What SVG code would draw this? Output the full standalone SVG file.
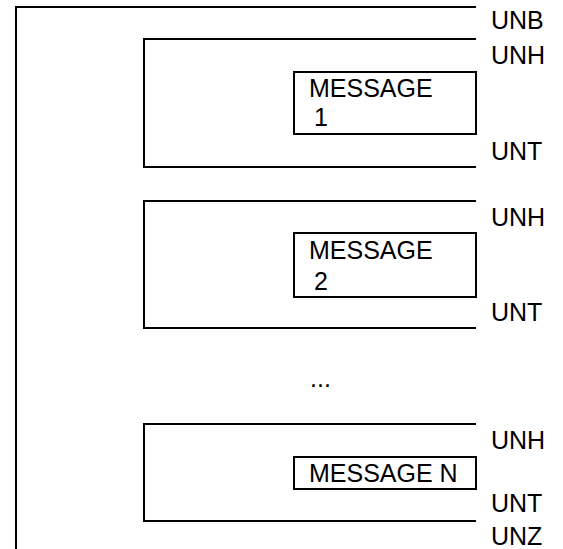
<svg xmlns="http://www.w3.org/2000/svg" width="563" height="549" viewBox="0 0 563 549">
  <style>
    .ln { fill: none; stroke: #000; stroke-width: 2; }
    .t { font-family: "Liberation Sans", Arial, sans-serif; font-size: 25px; fill: #000; }
  </style>
  <rect width="563" height="549" fill="#fff"/>
  <g id="connectors">
    <path class="ln" d="M476,7 H16 V550"/>
  </g>
  <g id="interchange">
    <text class="t" x="491" y="29">UNB</text>
    <text class="t" x="491" y="545">UNZ</text>
  </g>
  <g id="group1">
    <path class="ln" d="M476,39 H144 V167 H476"/>
    <text class="t" x="491" y="63.5">UNH</text>
    <text class="t" x="491" y="159.5">UNT</text>
  </g>
  <g id="message1">
    <rect class="ln" x="294" y="72" width="182" height="62"/>
    <text class="t" x="309" y="97">MESSAGE</text>
    <text class="t" x="314" y="126">1</text>
  </g>
  <g id="group2">
    <path class="ln" d="M476,201 H144 V328 H476"/>
    <text class="t" x="491" y="226">UNH</text>
    <text class="t" x="491" y="320.5">UNT</text>
  </g>
  <g id="message2">
    <rect class="ln" x="294" y="233" width="182" height="64"/>
    <text class="t" x="309" y="258.5">MESSAGE</text>
    <text class="t" x="314" y="290">2</text>
  </g>
  <g id="ellipsis">
    <text class="t" x="310" y="387">...</text>
  </g>
  <g id="groupN">
    <path class="ln" d="M476,424 H144 V521 H476"/>
    <text class="t" x="491" y="448.5">UNH</text>
    <text class="t" x="491" y="512">UNT</text>
  </g>
  <g id="messageN">
    <rect class="ln" x="294" y="457" width="182" height="32"/>
    <text class="t" x="309" y="482">MESSAGE N</text>
  </g>
</svg>
